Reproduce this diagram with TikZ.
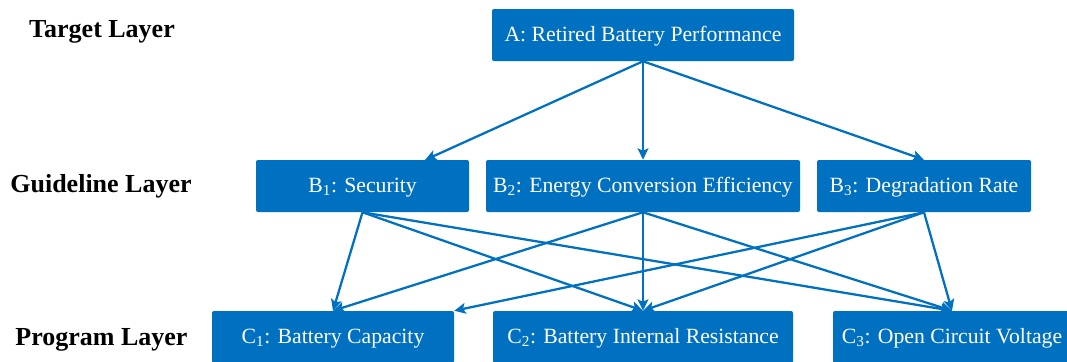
\documentclass[tikz,border=0pt]{standalone}
\usepackage{fontspec}
\setmainfont{Liberation Serif}
\usetikzlibrary{arrows.meta}
\definecolor{boxblue}{HTML}{0070C0}
\tikzset{
  box/.style={fill=boxblue, draw=none, rounded corners=1.5pt, text=white, inner sep=0pt,
    minimum height=39pt, text height=12pt, text depth=2.5pt, font=\fontsize{16.3}{19}\selectfont},
  layerlabel/.style={anchor=base, inner sep=0pt, font=\fontsize{19.5}{23}\selectfont\bfseries},
  link/.style={draw=boxblue, line width=1.7pt, -{Stealth[length=8.5pt, width=8pt, inset=1.8pt]}}
}
\begin{document}
\begin{tikzpicture}[x=0.75pt, y=-0.75pt]
\useasboundingbox (0,0) rectangle (1067,361);
% layer labels
\node[layerlabel] (tl) at (102,37) {Target Layer};
\node[layerlabel] (gl) at (101,192) {Guideline Layer};
\node[layerlabel] (pl) at (101.5,345) {Program Layer};
% boxes
\node[box, minimum width=226.5pt] (A) at (643,35) {A: Retired Battery Performance};
\node[box, minimum width=159.75pt] (B1) at (362.5,186) {B\textsubscript{1}: Security};
\node[box, minimum width=235.5pt] (B2) at (643,186) {B\textsubscript{2}: Energy Conversion Efficiency};
\node[box, minimum width=160.5pt] (B3) at (924,186) {B\textsubscript{3}: Degradation Rate};
\node[box, minimum width=181.5pt] (C1) at (333,337) {C\textsubscript{1}: Battery Capacity};
\node[box, minimum width=225pt] (C2) at (643,337) {C\textsubscript{2}: Battery Internal Resistance};
\node[box, minimum width=178.5pt] (C3) at (952,337) {C\textsubscript{3}: Open Circuit Voltage};
\coordinate (b1in) at (425,160);
% connectors
\draw[link] (A.south) -- (b1in);
\draw[link] (A.south) -- (B2.north);
\draw[link] (A.south) -- (B3.north);
\draw[link] (B1.south) -- (C1.north);
\draw[link] (B1.south) -- (C2.north);
\draw[link] (B1.south) -- (C3.north);
\draw[link] (B2.south) -- (C1.north);
\draw[link] (B2.south) -- (C2.north);
\draw[link] (B2.south) -- (C3.north);
\draw[link] (B3.south) -- (C1.north east);
\draw[link] (B3.south) -- (C2.north);
\draw[link] (B3.south) -- (C3.north);
\end{tikzpicture}
\end{document}
